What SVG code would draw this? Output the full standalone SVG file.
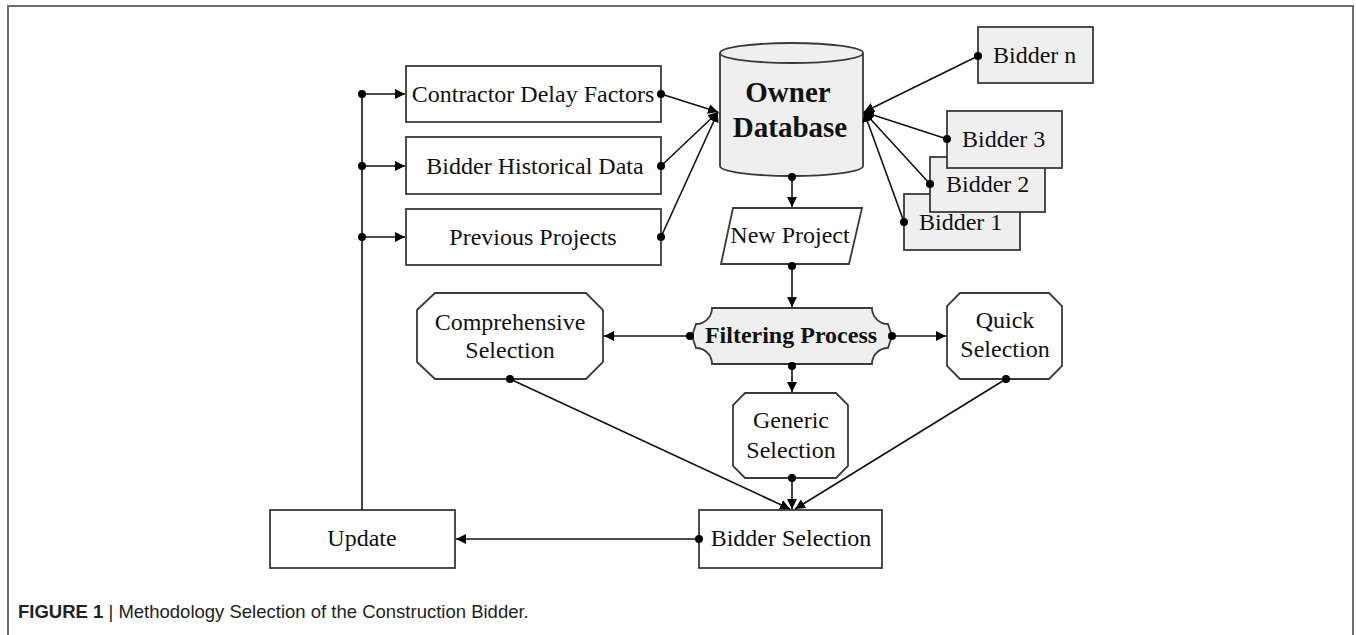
<svg xmlns="http://www.w3.org/2000/svg" width="1356" height="635" viewBox="0 0 1356 635">
<style>
.box{fill:#fff;stroke:#3a3a3a;stroke-width:1.8}
.gbox{fill:#efefef;stroke:#3a3a3a;stroke-width:1.8}
.t{font-family:"Liberation Serif","Times New Roman",serif;font-size:24px;fill:#111}
.tb{font-family:"Liberation Serif","Times New Roman",serif;font-weight:bold;fill:#111}
.c{text-anchor:middle}
.ln{stroke:#111;stroke-width:1.6;fill:none}
.cap{font-family:"Liberation Sans",Arial,sans-serif;font-size:18.5px;fill:#222}
</style>
<defs>
<marker id="dot" viewBox="0 0 10 10" refX="5" refY="5" markerWidth="8" markerHeight="8" markerUnits="userSpaceOnUse"><circle cx="5" cy="5" r="5" fill="#000"/></marker>
<marker id="arr" viewBox="0 0 10 10" refX="10" refY="5" markerWidth="10" markerHeight="10" orient="auto" markerUnits="userSpaceOnUse"><path d="M0,0 L10,5 L0,10 z" fill="#000"/></marker>
</defs>
<rect width="1356" height="635" fill="#fff"/>
<path d="M8,635 V6 H1353 V635" fill="none" stroke="#6e6e6e" stroke-width="2"/>

<g id="contractor-delay-factors"><rect class="box" x="406" y="66" width="255" height="56"/><text class="t c" x="533" y="102">Contractor Delay Factors</text></g>
<g id="bidder-historical-data"><rect class="box" x="406" y="137" width="255" height="57"/><text class="t c" x="535" y="174">Bidder Historical Data</text></g>
<g id="previous-projects"><rect class="box" x="406" y="209" width="255" height="56"/><text class="t c" x="533" y="245">Previous Projects</text></g>

<g id="owner-database">
<path class="gbox" d="M720,53 V166 A71.5,10 0 0 0 863,166 V53"/>
<ellipse class="gbox" cx="791.5" cy="53" rx="71.5" ry="10"/>
<text class="tb c" x="788" y="102" font-size="29">Owner</text>
<text class="tb c" x="790" y="137" font-size="29">Database</text>
</g>

<g id="bidder-n"><rect class="gbox" x="978" y="27" width="115" height="56"/><text class="t" x="993" y="63">Bidder n</text></g>
<g id="bidder-1"><rect class="gbox" x="904" y="194" width="116" height="56"/><text class="t" x="919" y="230">Bidder 1</text></g>
<g id="bidder-2"><rect class="gbox" x="930" y="157" width="115" height="55"/><text class="t" x="946" y="192">Bidder 2</text></g>
<g id="bidder-3"><rect class="gbox" x="947" y="111" width="115" height="57"/><text class="t" x="962" y="147">Bidder 3</text></g>

<g id="new-project"><path class="box" d="M733,208 H862 L849,264 H721 Z"/><text class="t c" x="790" y="243">New Project</text></g>

<g id="filtering-process"><path class="gbox" d="M712,308 H872 A16,16 0 0 0 888,324 L892,336 L888,348 A16,16 0 0 0 872,364 H712 A16,16 0 0 0 696,348 L692,336 L696,324 A16,16 0 0 0 712,308 Z"/><text class="tb c" x="791" y="343" font-size="24">Filtering Process</text></g>

<g id="comprehensive-selection"><path class="box" d="M435,293 H586 L603,310 V362 L586,379 H435 L417,362 V310 Z"/><text class="t c" x="510" y="330">Comprehensive</text><text class="t c" x="510" y="358">Selection</text></g>

<g id="quick-selection"><path class="box" d="M960,293 H1049 L1062,306 V366 L1049,379 H960 L947,366 V306 Z"/><text class="t c" x="1005" y="328">Quick</text><text class="t c" x="1005" y="357">Selection</text></g>

<g id="generic-selection"><path class="box" d="M745,393 H836 L848,405 V466 L836,478 H745 L733,466 V405 Z"/><text class="t c" x="791" y="428">Generic</text><text class="t c" x="791" y="458">Selection</text></g>

<g id="bidder-selection"><rect class="box" x="699" y="510" width="183" height="58"/><text class="t c" x="791" y="546">Bidder Selection</text></g>

<g id="update"><rect class="box" x="270" y="510" width="185" height="58"/><text class="t c" x="362" y="546">Update</text></g>

<g id="connectors">
<line class="ln" x1="362" y1="94" x2="362" y2="510"/>
<line class="ln" x1="362" y1="94" x2="405" y2="94" marker-start="url(#dot)" marker-end="url(#arr)"/>
<line class="ln" x1="362" y1="166" x2="405" y2="166" marker-start="url(#dot)" marker-end="url(#arr)"/>
<line class="ln" x1="362" y1="237" x2="405" y2="237" marker-start="url(#dot)" marker-end="url(#arr)"/>
<line class="ln" x1="661" y1="94" x2="718" y2="112" marker-start="url(#dot)" marker-end="url(#arr)"/>
<line class="ln" x1="661" y1="166" x2="718" y2="112" marker-start="url(#dot)" marker-end="url(#arr)"/>
<line class="ln" x1="661" y1="237" x2="718" y2="112" marker-start="url(#dot)" marker-end="url(#arr)"/>
<line class="ln" x1="978" y1="56" x2="864" y2="112" marker-start="url(#dot)" marker-end="url(#arr)"/>
<line class="ln" x1="947" y1="139" x2="864" y2="112" marker-start="url(#dot)" marker-end="url(#arr)"/>
<line class="ln" x1="930" y1="184" x2="864" y2="112" marker-start="url(#dot)" marker-end="url(#arr)"/>
<line class="ln" x1="904" y1="222" x2="864" y2="112" marker-start="url(#dot)" marker-end="url(#arr)"/>
<line class="ln" x1="792" y1="177" x2="792" y2="207" marker-start="url(#dot)" marker-end="url(#arr)"/>
<line class="ln" x1="792" y1="266" x2="792" y2="307" marker-start="url(#dot)" marker-end="url(#arr)"/>
<line class="ln" x1="690" y1="336" x2="604" y2="336" marker-start="url(#dot)" marker-end="url(#arr)"/>
<line class="ln" x1="892" y1="336" x2="946" y2="336" marker-start="url(#dot)" marker-end="url(#arr)"/>
<line class="ln" x1="792" y1="366" x2="792" y2="392" marker-start="url(#dot)" marker-end="url(#arr)"/>
<line class="ln" x1="510" y1="379" x2="790" y2="509" marker-start="url(#dot)" marker-end="url(#arr)"/>
<line class="ln" x1="1006" y1="379" x2="795" y2="509" marker-start="url(#dot)" marker-end="url(#arr)"/>
<line class="ln" x1="792" y1="478" x2="792" y2="509" marker-start="url(#dot)" marker-end="url(#arr)"/>
<line class="ln" x1="699" y1="539" x2="456" y2="539" marker-start="url(#dot)" marker-end="url(#arr)"/>
</g>

<text class="cap" x="18" y="618"><tspan font-weight="bold">FIGURE 1</tspan> | Methodology Selection of the Construction Bidder.</text>
</svg>
